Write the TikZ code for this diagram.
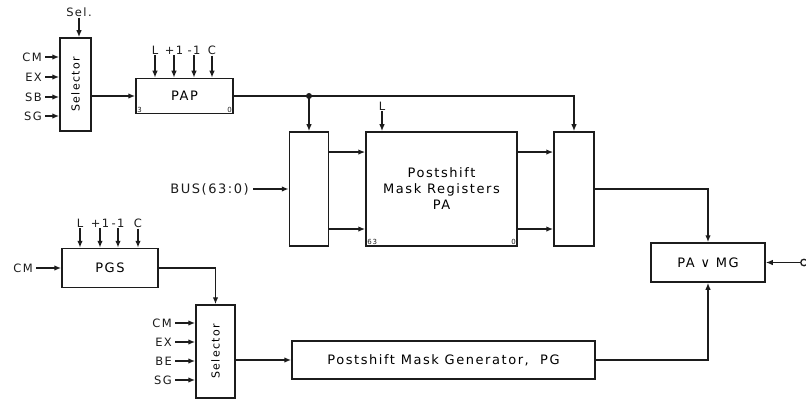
\documentclass[tikz,border=0pt]{standalone}
\usepackage{fontspec}
\setmainfont{DejaVu Sans}[LetterSpace=12]
\usepackage{tikz}
\usetikzlibrary{positioning,arrows.meta,calc}
\definecolor{ink}{HTML}{1C1C1C}
\tikzset{
  blk/.style   = {draw=ink, line width=1.5pt, inner sep=0pt, align=center,
                  font=\fontsize{13}{15}\selectfont},
  selbox/.style = {blk, minimum width=34pt, minimum height=93pt,
                  font=\fontsize{11}{12}\selectfont},
  mux/.style   = {blk, minimum width=39pt, minimum height=114pt},
  sig/.style   = {font=\fontsize{11.5}{13}\selectfont, inner sep=1pt, text=ink},
  corner/.style = {font=\fontsize{7}{7}\selectfont, inner sep=1.8pt, text=ink},
  arr/.style   = {-{Latex[length=7pt,width=5.5pt]}, line width=1.5pt, draw=ink},
  wire/.style  = {line width=1.5pt, draw=ink},
}

\begin{document}
\begin{tikzpicture}[x=1pt, y=-1pt, node distance=8pt]
  \useasboundingbox (0,0) rectangle (806,401);

  % --- upper selector and PAP ---
  \node[selbox, minimum width=31pt] (selA) at (75.5,84.5) {\rotatebox{90}{Selector}};
  \node[sig] (selAsel) at (79,12) {Sel.};
  \draw[arr] (selAsel.south) -- (selAsel.south |- selA.north);
  \foreach \t/\y in {CM/57, EX/77, SB/97, SG/116} {
    \node[sig, anchor=east] (selA\t) at (43,\y) {\t};
    \draw[arr, shorten <=2pt] (selA\t.east) -- (selA\t.east -| selA.west);
  }

  \node[blk, minimum width=97pt, minimum height=35pt] (pap) at (184.5,96) {PAP};
  \node[corner, anchor=south west] at (pap.south west) {3};
  \node[corner, anchor=south east] at (pap.south east) {0};
  \foreach \t/\x [count=\i] in {L/155, +1/174, -1/194, C/212} {
    \node[sig] (papin\i) at (\x,50) {\t};
    \draw[arr] (papin\i.south) -- (papin\i.south |- pap.north);
  }
  \draw[arr] (selA.east |- pap.west) -- (pap.west);

  % --- PA registers between the two muxes ---
  \node[mux] (lmux) at (309,189) {};
  \node[blk, minimum width=151pt, minimum height=114pt] (pa) at (441.5,189)
        {Postshift\\[1pt]Mask Registers\\[1pt]PA};
  \node[corner, anchor=south west] at (pa.south west) {63};
  \node[corner, anchor=south east] at (pa.south east) {0};
  \node[mux, minimum width=40pt] (rmux) at (574,189) {};

  \coordinate (tap) at (lmux.north |- pap.east);
  \draw[wire] (pap.east) -- (tap);
  \fill[ink] (tap) circle (3pt);
  \draw[arr] (tap) -- (lmux.north);
  \draw[arr] (tap) -| (rmux.north);

  \node[sig] (paL) at (382,106) {L};
  \draw[arr] (paL.south) -- (paL.south |- pa.north);

  \node[sig, anchor=east, font=\fontsize{13}{15}\selectfont] (bus) at (250,189) {BUS(63:0)};
  \draw[arr, shorten <=3pt] (bus.east) -- (lmux.west);

  \foreach \f/\n in {.18/a, .8465/b} {
    \draw[arr] ($(lmux.north east)!\f!(lmux.south east)$) coordinate (l\n) -- (l\n -| pa.west);
    \draw[arr] ($(pa.north east)!\f!(pa.south east)$) coordinate (r\n) -- (r\n -| rmux.west);
  }

  % --- merge ---
  \node[blk, minimum width=114pt, minimum height=39pt] (pavmg) at (708,262.5) {PA ∨ MG};
  \draw[arr] (rmux.east) -| (pavmg.north);
  \node[circle, draw=ink, line width=1.3pt, inner sep=0pt, minimum size=6.5pt] (ext) at (804,262.5) {};
  \draw[arr] (ext.west) -- (pavmg.east);

  % --- lower PGS, selector and PG ---
  \node[blk, minimum width=96pt, minimum height=39pt] (pgs) at (110,268) {PGS};
  \foreach \t/\x [count=\i] in {L/80, +1/100, -1/118, C/138} {
    \node[sig] (pgsin\i) at (\x,223) {\t};
    \draw[arr] (pgsin\i.south) -- (pgsin\i.south |- pgs.north);
  }
  \node[sig, anchor=east] (pgsCM) at (34,268) {CM};
  \draw[arr, shorten <=2pt] (pgsCM.east) -- (pgs.west);

  \node[selbox, minimum width=39pt] (selB) at (215.5,351.5) {\rotatebox{90}{Selector}};
  \draw[arr] (pgs.east) -| (selB.north);
  \foreach \t/\y in {CM/323, EX/342, BE/361, SG/380} {
    \node[sig, anchor=east] (selB\t) at (173,\y) {\t};
    \draw[arr, shorten <=2pt] (selB\t.east) -- (selB\t.east -| selB.west);
  }

  \node[blk, minimum width=303pt, minimum height=38pt] (pg) at (443.5,360)
        {Postshift Mask Generator,\ \ PG};
  \draw[arr] (selB.east |- pg.west) -- (pg.west);
  \draw[arr] (pg.east) -| (pavmg.south);
\end{tikzpicture}
\end{document}
